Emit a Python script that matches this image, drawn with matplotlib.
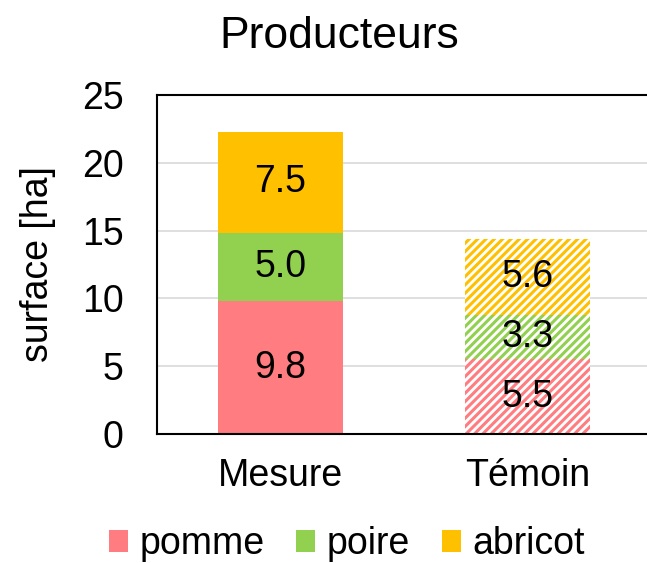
import matplotlib.pyplot as plt
import numpy as np

plt.rcParams['font.family'] = ['Liberation Sans', 'DejaVu Sans']
plt.rcParams['hatch.linewidth'] = 2.2

# Data
categories = ['Mesure', 'Témoin']
pomme = [9.8, 5.5]
poire = [5.0, 3.3]
abricot = [7.5, 5.6]
series = [('pomme', pomme, '#FF7C80'),
          ('poire', poire, '#92D050'),
          ('abricot', abricot, '#FFC000')]

fig = plt.figure(figsize=(6.47, 5.63), dpi=100)
ax = fig.add_axes([0.2427, 0.2291, 0.7636, 0.6022])

x = np.arange(len(categories))
width = 0.505
bottom = np.zeros(len(categories))
handles = []
for name, vals, color in series:
    vals = np.array(vals)
    # Mesure: solid fill
    h = ax.bar(x[0], vals[0], width, bottom=bottom[0], color=color, linewidth=0, zorder=2)
    # Témoin: hatched
    ax.bar(x[1], vals[1], width, bottom=bottom[1], facecolor='white', edgecolor=color,
           hatch='////', linewidth=0, zorder=2)
    for i in range(len(categories)):
        ax.text(x[i], bottom[i] + vals[i] / 2, f'{vals[i]:.1f}', ha='center', va='center',
                fontsize=27, zorder=3)
    handles.append(h)
    bottom += vals

ax.set_xlim(-0.5, 1.5)
ax.set_ylim(0, 25)
ax.set_yticks([0, 5, 10, 15, 20, 25])
ax.set_xticks(x)
ax.set_xticklabels(categories)
ax.tick_params(axis='both', length=0, labelsize=27)
ax.tick_params(axis='y', pad=24)
ax.tick_params(axis='x', pad=17)
ax.yaxis.grid(True, color='#D9D9D9', linewidth=1.2, zorder=0)
ax.set_axisbelow(True)
for s in ax.spines.values():
    s.set_linewidth(1.5)
    s.set_color('black')

ax.set_ylabel('surface [ha]', fontsize=27, labelpad=19)
fig.text(0.525, 1 - 48 / 563, 'Producteurs', ha='center', va='baseline', fontsize=32)

fig.legend(handles, [s[0] for s in series], loc='center', bbox_to_anchor=(0.536, 0.033),
           ncol=3, frameon=False, fontsize=27, handlelength=0.51, handleheight=0.51,
           handletextpad=0.3, columnspacing=0.85, borderpad=0, borderaxespad=0)

fig.savefig('out.png', dpi=100)
